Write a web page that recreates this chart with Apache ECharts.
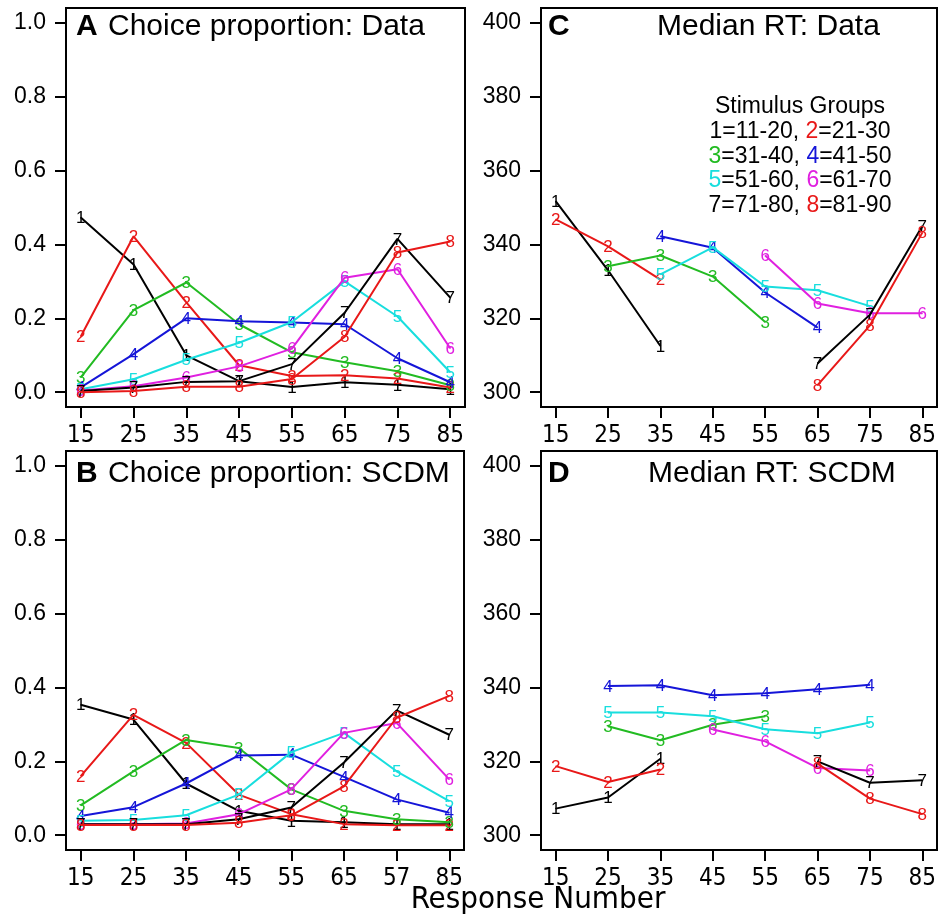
<!DOCTYPE html>
<html>
<head>
<meta charset="utf-8">
<script src="https://cdn.jsdelivr.net/npm/echarts@6/dist/echarts.min.js"></script>
<style>
  html, body { margin: 0; padding: 0; background: #ffffff; }
  #chart { width: 944px; height: 922px; }
</style>
</head>
<body>
<div id="chart"></div>
<script>
// Response numbers (x positions) and tick labels
const responseNumbers = [15, 25, 35, 45, 55, 65, 75, 85];
const tickLabelsTop = ['15', '25', '35', '45', '55', '65', '75', '85'];
const tickLabelsB = ['15', '25', '35', '45', '55', '65', '57', '85'];
const propTicks = [0, 0.2, 0.4, 0.6, 0.8, 1.0];
const rtTicks = [300, 320, 340, 360, 380, 400];

// Stimulus groups
const groupRanges = ['11-20', '21-30', '31-40', '41-50', '51-60', '61-70', '71-80', '81-90'];
const groupColors = ['#000000', '#e81818', '#22bb22', '#1515d8', '#18dede', '#e020e0', '#000000', '#e81818'];

// A: choice proportion, data
const choiceData1 = [0.473, 0.346, 0.100, 0.030, 0.014, 0.027, 0.020, 0.008];
const choiceData2 = [0.151, 0.422, 0.243, 0.073, 0.044, 0.046, 0.037, 0.013];
const choiceData3 = [0.040, 0.222, 0.297, 0.184, 0.108, 0.081, 0.057, 0.019];
const choiceData4 = [0.013, 0.103, 0.200, 0.192, 0.189, 0.184, 0.092, 0.027];
const choiceData5 = [0.008, 0.035, 0.088, 0.134, 0.190, 0.300, 0.205, 0.054];
const choiceData6 = [0.005, 0.016, 0.040, 0.070, 0.118, 0.310, 0.333, 0.119];
const choiceData7 = [0.003, 0.013, 0.028, 0.030, 0.076, 0.215, 0.415, 0.256];
const choiceData8 = [0.000, 0.003, 0.015, 0.015, 0.036, 0.150, 0.378, 0.408];

// B: choice proportion, SCDM
const choiceModel1 = [0.353, 0.313, 0.140, 0.066, 0.039, 0.035, 0.030, 0.030];
const choiceModel2 = [0.160, 0.326, 0.250, 0.110, 0.057, 0.030, 0.027, 0.027];
const choiceModel3 = [0.081, 0.173, 0.258, 0.236, 0.124, 0.066, 0.043, 0.035];
const choiceModel4 = [0.052, 0.076, 0.140, 0.216, 0.218, 0.158, 0.097, 0.061];
const choiceModel5 = [0.039, 0.041, 0.054, 0.110, 0.225, 0.277, 0.173, 0.092];
const choiceModel6 = [0.030, 0.030, 0.032, 0.057, 0.124, 0.277, 0.304, 0.151];
const choiceModel7 = [0.030, 0.030, 0.030, 0.043, 0.075, 0.197, 0.338, 0.272];
const choiceModel8 = [0.028, 0.028, 0.028, 0.034, 0.054, 0.132, 0.318, 0.377];

// C: median RT, data
const rtData1 = [351.7, 333.0, 312.5, null, null, null, null, null];
const rtData2 = [346.8, 339.5, 330.5, null, null, null, null, null];
const rtData3 = [null, 334.1, 337.0, 331.3, 319.0, null, null, null];
const rtData4 = [null, null, 342.2, 339.1, 327.0, 317.5, null, null];
const rtData5 = [null, null, 331.9, 339.2, 328.6, 327.6, 323.3, null];
const rtData6 = [null, null, null, null, 337.0, 324.0, 321.4, 321.4];
const rtData7 = [null, null, null, null, null, 307.8, 321.0, 345.0];
const rtData8 = [null, null, null, null, null, 301.9, 318.1, 343.2];

// D: median RT, SCDM
const rtModel1 = [307.2, 310.2, 320.7, null, null, null, null, null];
const rtModel2 = [318.7, 314.4, 317.8, null, null, null, null, null];
const rtModel3 = [null, 329.5, 325.7, 329.9, 332.2, null, null, null];
const rtModel4 = [null, 340.4, 340.6, 337.9, 338.4, 339.5, 340.7, null];
const rtModel5 = [null, 333.2, 333.2, 332.2, 328.7, 327.6, 330.5, null];
const rtModel6 = [null, null, null, 328.6, 325.4, 318.2, 317.5, null];
const rtModel7 = [null, null, null, null, null, 320.0, 314.2, 314.9];
const rtModel8 = [null, null, null, null, null, 319.4, 309.9, 305.7];

const panels = [
  { groups: [choiceData1, choiceData2, choiceData3, choiceData4, choiceData5, choiceData6, choiceData7, choiceData8],
    grid: { left: 66, top: 8, width: 399, height: 399 }, kind: 'prop', xLabels: tickLabelsTop },
  { groups: [choiceModel1, choiceModel2, choiceModel3, choiceModel4, choiceModel5, choiceModel6, choiceModel7, choiceModel8],
    grid: { left: 66, top: 451, width: 398, height: 399 }, kind: 'prop', xLabels: tickLabelsB },
  { groups: [rtData1, rtData2, rtData3, rtData4, rtData5, rtData6, rtData7, rtData8],
    grid: { left: 541, top: 8, width: 396, height: 399 }, kind: 'rt', xLabels: tickLabelsTop },
  { groups: [rtModel1, rtModel2, rtModel3, rtModel4, rtModel5, rtModel6, rtModel7, rtModel8],
    grid: { left: 541, top: 451, width: 396, height: 399 }, kind: 'rt', xLabels: tickLabelsTop }
];

const textFont = 'Liberation Sans, Arial, Helvetica, sans-serif';
const narrowFont = 'Liberation Sans Narrow, DejaVu Sans Condensed, Liberation Sans, sans-serif';

const grids = [], xAxes = [], yAxes = [], series = [];

panels.forEach((p, pi) => {
  grids.push(Object.assign({
    show: true, borderColor: '#000', borderWidth: 2
  }, p.grid));

  const labels = p.xLabels;
  xAxes.push({
    type: 'value', gridIndex: pi, min: 12.2, max: 87.8,
    axisLine: { show: true, onZero: false, lineStyle: { color: '#000', width: 2 } },
    splitLine: { show: false },
    axisTick: { show: true, length: 11, customValues: responseNumbers,
      lineStyle: { color: '#000', width: 2 } },
    axisLabel: {
      customValues: responseNumbers, margin: 17,
      color: '#000', fontSize: 24, fontFamily: narrowFont,
      formatter: v => labels[responseNumbers.indexOf(v)]
    }
  });

  const isProp = p.kind === 'prop';
  const yTicks = isProp ? propTicks : rtTicks;
  yAxes.push({
    type: 'value', gridIndex: pi,
    min: isProp ? -0.04 : 296, max: isProp ? 1.04 : 404,
    axisLine: { show: true, lineStyle: { color: '#000', width: 2 } },
    splitLine: { show: false },
    axisTick: { show: true, length: 11, customValues: yTicks, lineStyle: { color: '#000', width: 2 } },
    axisLabel: {
      customValues: yTicks, margin: 20,
      color: '#000', fontSize: 23, fontFamily: textFont,
      formatter: v => isProp ? v.toFixed(1) : String(Math.round(v))
    }
  });

  p.groups.forEach((vals, gi) => {
    const pts = [];
    vals.forEach((v, k) => { if (v !== null) pts.push([responseNumbers[k], v]); });
    series.push({
      type: 'line', xAxisIndex: pi, yAxisIndex: pi,
      data: pts,
      symbol: 'circle', symbolSize: 1, showSymbol: true,
      lineStyle: { color: groupColors[gi], width: 2 },
      itemStyle: { color: groupColors[gi] },
      label: {
        show: true, position: 'inside', align: 'center', verticalAlign: 'middle', offset: [0, 1],
        formatter: String(gi + 1),
        color: groupColors[gi], fontSize: 17, fontFamily: textFont
      },
      emphasis: { disabled: true },
      z: 2 + gi
    });
  });
});

// Panel headings
const headings = [
  { letter: 'A', text: 'Choice proportion: Data', lx: 76, tx: 108, y: 27 },
  { letter: 'B', text: 'Choice proportion: SCDM', lx: 76, tx: 108, y: 474 },
  { letter: 'C', text: 'Median RT: Data', lx: 548, tx: 657, y: 27 },
  { letter: 'D', text: 'Median RT: SCDM', lx: 548, tx: 648, y: 474 }
];
const graphics = [];
headings.forEach(h => {
  graphics.push({ type: 'text', x: h.lx, y: h.y, z: 50,
    style: { text: h.letter, font: 'bold 30px ' + textFont, fill: '#000', verticalAlign: 'middle' } });
  graphics.push({ type: 'text', x: h.tx, y: h.y, z: 50,
    style: { text: h.text, font: '30px ' + textFont, fill: '#000', verticalAlign: 'middle' } });
});

// Legend for stimulus groups (panel C)
const legendRich = {};
groupColors.forEach((c, i) => { legendRich['g' + i] = { fill: c, font: '23px ' + textFont }; });
const legendLines = ['Stimulus Groups'];
for (let i = 0; i < 8; i += 2) {
  legendLines.push('{g' + i + '|' + (i + 1) + '}=' + groupRanges[i] + ', {g' + (i + 1) + '|' + (i + 2) + '}=' + groupRanges[i + 1]);
}
legendLines.forEach((line, i) => {
  graphics.push({ type: 'text', x: 800, y: 107 + i * 24.7, z: 50,
    style: { text: line, rich: legendRich, font: '23px ' + textFont, fill: '#000',
      align: 'center', verticalAlign: 'middle' } });
});

// Shared x-axis title
graphics.push({ type: 'text', x: 538, y: 900, z: 50,
  style: { text: 'Response Number', font: '31px ' + narrowFont, fill: '#000',
    align: 'center', verticalAlign: 'middle' } });

const chart = echarts.init(document.getElementById('chart'), null, { renderer: 'canvas' });
chart.setOption({
  backgroundColor: '#ffffff',
  animation: false,
  grid: grids,
  xAxis: xAxes,
  yAxis: yAxes,
  series: series,
  graphic: graphics
});
</script>
</body>
</html>
